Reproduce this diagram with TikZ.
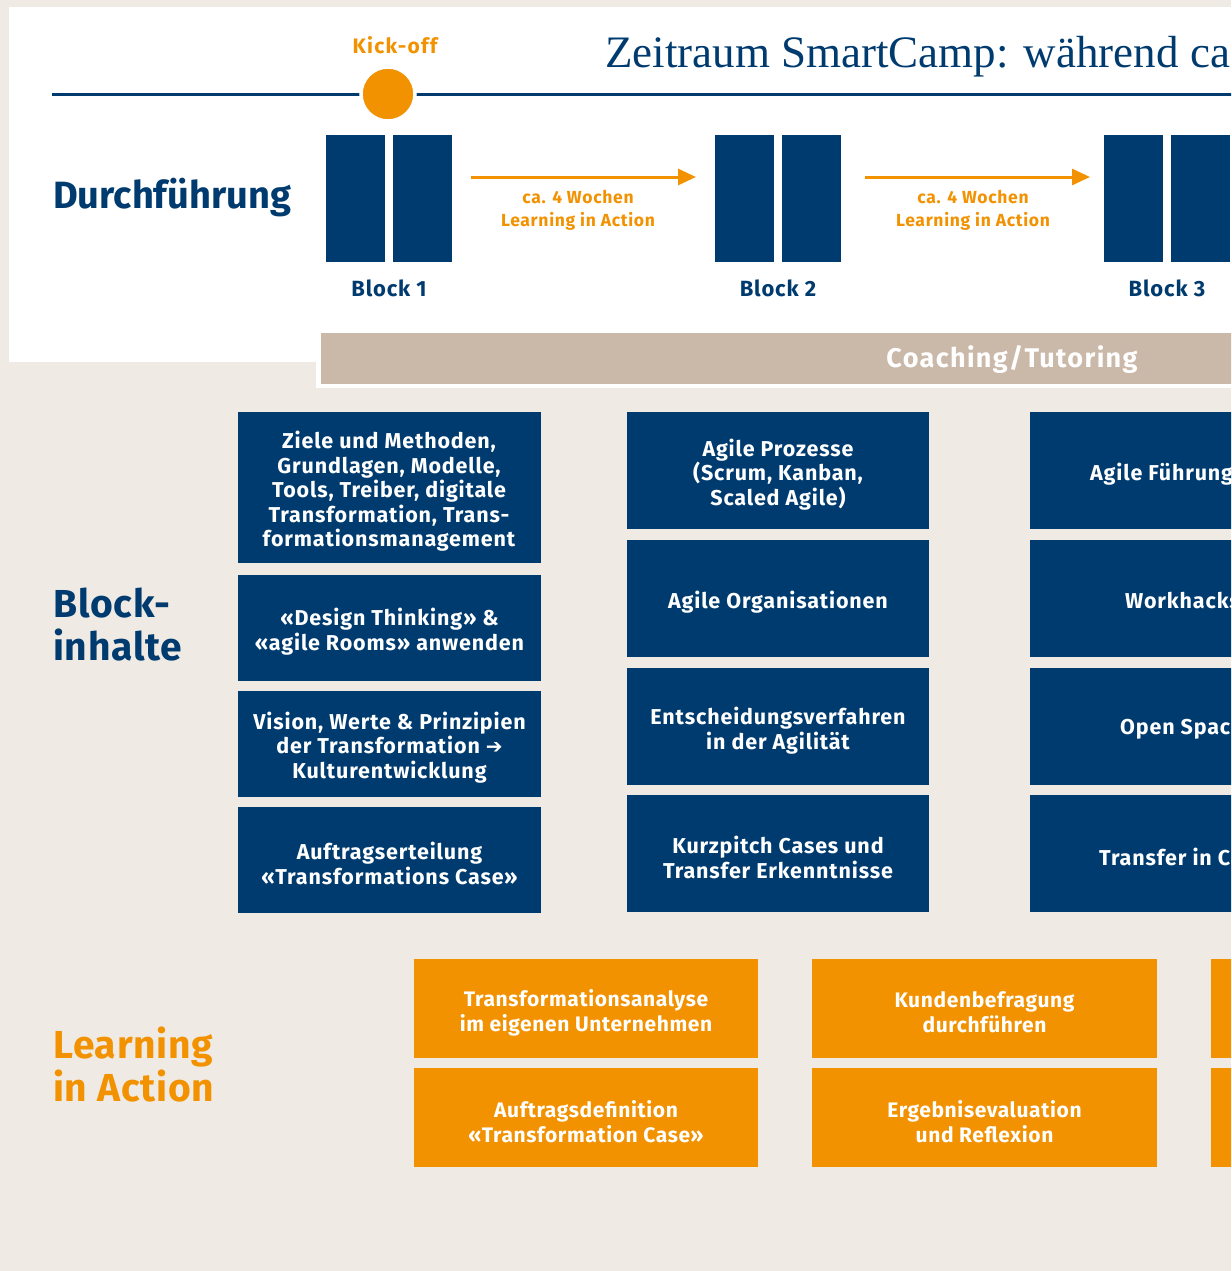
\documentclass[tikz,border=0pt]{standalone}
\usepackage{fontspec}
\setmainfont{Fira Sans}
\newfontfamily\seriffont{Liberation Serif}
\newfontfamily\symfont{DejaVu Sans}
\usetikzlibrary{arrows.meta}
\definecolor{navy}{HTML}{003B6F}
\definecolor{orng}{HTML}{F29200}
\definecolor{bgc}{HTML}{EFEAE4}
\definecolor{tanc}{HTML}{CAB8A8}
\newcommand{\lsp}[1]{\addfontfeatures{LetterSpace=#1}}
\tikzset{
  blk/.style={fill=navy, inner sep=0, minimum width=59, minimum height=127},
  blklabel/.style={text=navy, font=\fontsize{22}{26}\selectfont\bfseries\lsp{4}},
  wochen/.style={text=orng, font=\fontsize{17.5}{23}\selectfont\bfseries\lsp{4}, align=center},
  oarrow/.style={draw=orng, line width=3, -{Triangle[length=18,width=16]}},
  bluebox/.style={fill=navy, inner sep=0, minimum width=303},
  bluetext/.style={text=white, inner sep=0, align=center,
    font=\fontsize{21.5}{24.5}\selectfont\bfseries\lsp{4}},
  orbox/.style={fill=orng, inner sep=0, minimum width=345, minimum height=99},
  ortext/.style={text=white, inner sep=0, align=center,
    font=\fontsize{21}{25}\selectfont\bfseries\lsp{3}},
  sidelabel/.style={anchor=west, align=left, inner sep=0, font=\fontsize{38}{43}\selectfont\bfseries},
  sidelabelb/.style={sidelabel, font=\fontsize{39}{43}\selectfont\bfseries\lsp{2}},
}
\begin{document}
\begin{tikzpicture}[x=1pt,y=-1pt]
\useasboundingbox (0,0) rectangle (1231,1271);
\clip (0,0) rectangle (1231,1271);
\fill[bgc] (0,0) rectangle (1231,1271);
% top panel
\fill[white] (9,7) rectangle (1240,362);
\fill[white] (316,330) rectangle (1240,388);
\fill[tanc] (321,333) rectangle (1240,384);
\node[text=white, font=\fontsize{27}{30}\selectfont\bfseries\lsp{5}] (coach) at (1012,359) {Coaching/Tutoring};
% timeline
\coordinate (tl0) at (52,95);
\coordinate (tl1) at (1240,95);
\draw[navy, line width=3] (tl0) -- (tl1);
\node[circle, fill=orng, draw=white, line width=3.5, minimum size=54, inner sep=0] (kick) at (388,94) {};
\node[text=orng, font=\fontsize{21}{24}\selectfont\bfseries\lsp{6}] (kicklbl) at (395,45) {Kick-off};
\node[anchor=base west, inner sep=0, text=navy, font=\seriffont\fontsize{45}{50}\selectfont] (title) at (605,68) {Zeitraum SmartCamp: während ca};
% Durchfuehrung
\node[sidelabel, text=navy] (durch) at (53,198) {Durchführung};
% blocks
\node[blk] (b1a) at (355.5,198.5) {};
\node[blk] (b1b) at (422.5,198.5) {};
\node[blk] (b2a) at (744.5,198.5) {};
\node[blk] (b2b) at (811.5,198.5) {};
\node[blk] (b3a) at (1133.5,198.5) {};
\node[blk] (b3b) at (1200.5,198.5) {};
\node[blklabel] (l1) at (389,288) {Block 1};
\node[blklabel] (l2) at (778,288) {Block 2};
\node[blklabel] (l3) at (1167,288) {Block 3};
% arrows
\coordinate (a1s) at (471,177);
\coordinate (a1e) at (696,177);
\coordinate (a2s) at (865,177);
\coordinate (a2e) at (1090,177);
\draw[oarrow] (a1s) -- (a1e);
\draw[oarrow] (a2s) -- (a2e);
\node[wochen] (w1) at (578,210) {ca. 4 Wochen\\Learning in Action};
\node[wochen] (w2) at (973,210) {ca. 4 Wochen\\Learning in Action};
% Blockinhalte label
\node[sidelabelb, text=navy] (bi) at (53,624.5) {Block-\\inhalte};
% column 1
\node[bluebox, minimum height=151] (c1a) at (389,487.5) {};
\node[bluebox, minimum height=106] (c1b) at (389.5,627.5) {};
\node[bluebox, minimum height=106] (c1c) at (389.5,743.5) {};
\node[bluebox, minimum height=106] (c1d) at (389.5,859.5) {};
\node[bluetext] (c1a-t) at ([yshift=-4]c1a.center) {Ziele und Methoden,\\Grundlagen, Modelle,\\Tools, Treiber, digitale\\Transformation, Trans-\\formationsmanagement};
\node[bluetext] (c1b-t) at ([yshift=-4]c1b.center) {«Design Thinking» \&\\«agile Rooms» anwenden};
\node[bluetext] (c1c-t) at ([yshift=-4]c1c.center) {Vision, Werte \& Prinzipien\\der Transformation {\symfont\fontsize{20}{20}\selectfont ➔}\\Kulturentwicklung};
\node[bluetext] (c1d-t) at ([yshift=-4]c1d.center) {Auftragserteilung\\«Transformations Case»};
% column 2
\node[bluebox, minimum width=302, minimum height=117] (c2a) at (778,470.5) {};
\node[bluebox, minimum width=302, minimum height=117] (c2b) at (778,598.5) {};
\node[bluebox, minimum width=302, minimum height=117] (c2c) at (778,726.5) {};
\node[bluebox, minimum width=302, minimum height=117] (c2d) at (778,853.5) {};
\node[bluetext] (c2a-t) at ([yshift=-4]c2a.center) {Agile Prozesse\\(Scrum, Kanban,\\Scaled Agile)};
\node[bluetext] (c2b-t) at ([yshift=-4]c2b.center) {Agile Organisationen};
\node[bluetext] (c2c-t) at ([yshift=-4]c2c.center) {Entscheidungsverfahren\\in der Agilität};
\node[bluetext] (c2d-t) at ([yshift=-4]c2d.center) {Kurzpitch Cases und\\Transfer Erkenntnisse};
% column 3 (cut off at the picture's edge)
\node[bluebox, minimum width=302, minimum height=117] (c3a) at (1181,470.5) {};
\node[bluebox, minimum width=302, minimum height=117] (c3b) at (1181,598.5) {};
\node[bluebox, minimum width=302, minimum height=117] (c3c) at (1181,726.5) {};
\node[bluebox, minimum width=302, minimum height=117] (c3d) at (1181,853.5) {};
\node[bluetext, anchor=west] (c3a-t) at (1090,474) {Agile Führung};
\node[bluetext, anchor=west] (c3b-t) at (1125,601) {Workhacks};
\node[bluetext, anchor=west] (c3c-t) at (1120,729) {Open Spac};
\node[bluetext, anchor=west] (c3d-t) at (1099,857) {Transfer in Ca};
% Learning in Action
\node[sidelabelb, text=orng] (lia) at (53,1065) {Learning\\in Action};
\node[orbox, minimum width=344] (o1a) at (586,1008.5) {};
\node[orbox, minimum width=344] (o1b) at (586,1117.5) {};
\node[orbox] (o2a) at (984.5,1008.5) {};
\node[orbox] (o2b) at (984.5,1117.5) {};
\node[orbox] (o3a) at (1383.5,1008.5) {};
\node[orbox] (o3b) at (1383.5,1117.5) {};
\node[ortext] (o1a-t) at ([yshift=-4]o1a.center) {Transformationsanalyse\\im eigenen Unternehmen};
\node[ortext] (o1b-t) at ([yshift=-4]o1b.center) {Auftragsdefinition\\«Transformation Case»};
\node[ortext] (o2a-t) at ([yshift=-4]o2a.center) {Kundenbefragung\\durchführen};
\node[ortext] (o2b-t) at ([yshift=-4]o2b.center) {Ergebnisevaluation\\und Reflexion};
\end{tikzpicture}
\end{document}
